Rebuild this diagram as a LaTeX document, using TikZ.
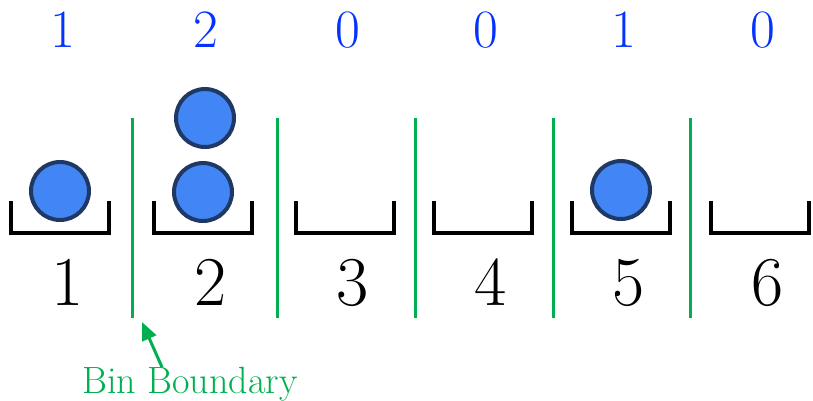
\documentclass[tikz,border=0pt]{standalone}
\usepackage{tikz}
\usetikzlibrary{positioning,arrows.meta}
\definecolor{ballfill}{HTML}{4285F4}
\definecolor{balledge}{HTML}{1F3864}
\definecolor{boundgreen}{HTML}{00B050}
\definecolor{countblue}{HTML}{0433FF}

\begin{document}
\begin{tikzpicture}[
    x=1pt, y=-1pt,
    ball/.style={circle, draw=balledge, fill=ballfill, line width=4pt, minimum size=58pt, inner sep=0pt},
    bin/.style={line width=4pt},
    boundary/.style={draw=boundgreen, line width=3pt},
    count/.style={text=countblue, font=\fontsize{54}{60}\selectfont, anchor=base},
    binlabel/.style={font=\fontsize{70}{80}\selectfont, anchor=base},
    arrow/.style={-{Triangle[length=18pt,width=15pt]}, draw=boundgreen, line width=3pt}
]
    \useasboundingbox (0,0) rectangle (813,400);

    % bins, their numbers and the counts above
    \foreach \i/\x/\c in {1/60/1, 2/203/2, 3/345/0, 4/483/0, 5/621/1, 6/760/0} {
        \draw[bin] (\x-49,201) -- (\x-49,233) -- (\x+49,233) -- (\x+49,201);
        \coordinate (bin\i) at (\x,233);
        \node[binlabel] (num\i) at (\x+8,305) {\i};
        \node[count] (cnt\i) at (\x+3,47) {\c};
    }

    % bin boundaries
    \foreach \j/\x in {1/132, 2/277, 3/415, 4/553, 5/690} {
        \coordinate (bt\j) at (\x,118);
        \coordinate (bb\j) at (\x,318);
        \draw[boundary] (bt\j) -- (bb\j);
    }

    % balls
    \node[ball] (ball1) at ([yshift=42pt]bin1) {};
    \node[ball] (ball2) at ([yshift=41pt]bin2) {};
    \node[ball, above=12pt of ball2, xshift=2pt] (ball3) {};
    \node[ball] (ball4) at ([yshift=43pt]bin5) {};

    % label
    \node[text=boundgreen, font=\fontsize{38}{44}\selectfont, anchor=base] (bnd) at (190,393) {Bin Boundary};
    \coordinate (tip) at ([xshift=10pt, yshift=-4pt]bb1);
    \draw[arrow] ([xshift=-28pt, yshift=-4pt]bnd.north) -- (tip);
\end{tikzpicture}
\end{document}
